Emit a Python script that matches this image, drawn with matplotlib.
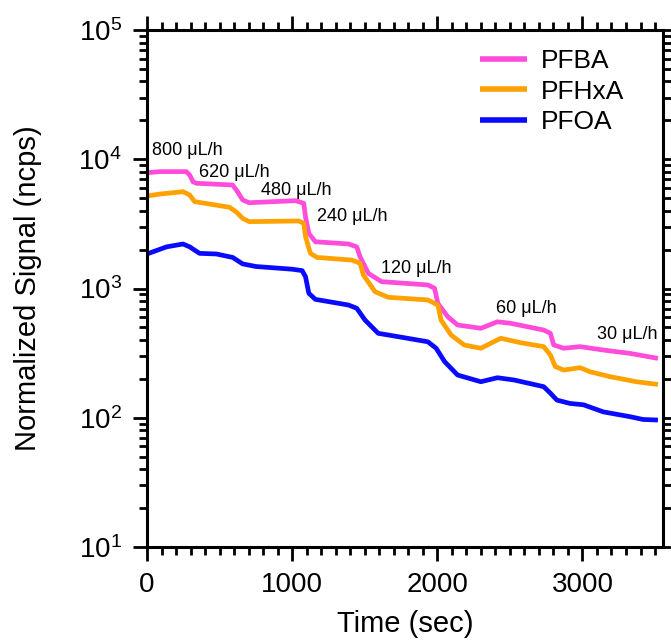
import matplotlib
matplotlib.use("Agg")
import matplotlib.pyplot as plt
from matplotlib.ticker import LogLocator, MultipleLocator

plt.rcParams['font.family'] = ['Liberation Sans', 'DejaVu Sans']
plt.rcParams['mathtext.fontset'] = 'custom'
plt.rcParams['mathtext.rm'] = 'Liberation Sans'
plt.rcParams['mathtext.it'] = 'Liberation Sans'

# ---- data ----
pfba_t = [0, 89, 271, 294, 317, 340, 590, 624, 659, 704, 1024, 1080, 1092, 1115, 1160,
          1388, 1445, 1468, 1525, 1616, 1935, 1981, 2004, 2072, 2140, 2300, 2414, 2505,
          2733, 2779, 2802, 2870, 2984, 3144, 3326, 3520]
pfba_v = [7870, 8020, 8020, 7550, 6700, 6520, 6320, 5610, 4840, 4610, 4780, 4560, 3590,
          2670, 2300, 2210, 2100, 1760, 1310, 1130, 1065, 1005, 767, 605, 522, 492, 553,
          538, 477, 450, 366, 345, 355, 334, 315, 288]

pfhxa_t = [0, 89, 248, 294, 328, 568, 613, 659, 704, 1046, 1080, 1092, 1126, 1171, 1411,
           1468, 1491, 1571, 1662, 1935, 2004, 2026, 2095, 2186, 2300, 2437, 2573, 2733,
           2779, 2813, 2870, 2984, 3052, 3189, 3371, 3520]
pfhxa_v = [5200, 5380, 5610, 5290, 4700, 4250, 3930, 3490, 3290, 3330, 3190, 2520, 1870,
           1740, 1660, 1570, 1270, 944, 855, 815, 745, 570, 437, 365, 345, 412, 381, 355,
           306, 249, 234, 244, 227, 208, 190, 181]

pfoa_t = [0, 135, 248, 294, 362, 477, 590, 659, 750, 1000, 1069, 1092, 1115, 1160, 1388,
          1445, 1502, 1593, 1730, 1935, 1992, 2050, 2140, 2300, 2414, 2528, 2733, 2779,
          2824, 2915, 3007, 3144, 3326, 3417, 3520]
pfoa_v = [1850, 2100, 2210, 2100, 1870, 1850, 1740, 1550, 1480, 1410, 1375, 1235, 918,
          824, 745, 703, 570, 450, 424, 387, 345, 272, 214, 190, 204, 196, 174, 155, 137,
          129, 126, 111, 102, 97, 96]

series_names = ["PFBA", "PFHxA", "PFOA"]
series_colors = ["#FF4CDB", "#FFA200", "#0A0AFF"]

flow_labels = ["800 μL/h", "620 μL/h", "480 μL/h", "240 μL/h", "120 μL/h", "60 μL/h", "30 μL/h"]
flow_t = [34, 356, 786, 1170, 1614, 2407, 3098]
flow_v = [11600, 7960, 5780, 3600, 1420, 706, 437]

# ---- figure ----
fig = plt.figure(figsize=(6.71, 6.44), dpi=100)
ax = fig.add_axes([147 / 671, 1 - 547 / 644, (663 - 147) / 671, (547 - 30) / 644])

for t, v, name, c in zip([pfba_t, pfhxa_t, pfoa_t], [pfba_v, pfhxa_v, pfoa_v],
                         series_names, series_colors):
    ax.plot(t, v, color=c, lw=3.4, label=name, solid_joinstyle='round', solid_capstyle='butt')

ax.set_yscale('log')
ax.set_xlim(0, 3555)
ax.set_ylim(10, 1e5)

ax.xaxis.set_major_locator(MultipleLocator(1000))
ax.xaxis.set_minor_locator(MultipleLocator(100))
ax.yaxis.set_major_locator(LogLocator(base=10, numticks=10))
ax.yaxis.set_minor_locator(LogLocator(base=10, subs=range(2, 10), numticks=20))

for s in ax.spines.values():
    s.set_linewidth(2.2)

ax.tick_params(which='both', direction='out', top=True, right=True, width=2.0,
               labelsize=20)
ax.tick_params(which='major', length=10, pad=8)
ax.tick_params(which='minor', length=6)

ax.set_xlabel("Time (sec)", fontsize=21, labelpad=9)
ax.set_ylabel("Normalized Signal (ncps)", fontsize=21, labelpad=26)

for lab, t, v in zip(flow_labels, flow_t, flow_v):
    ax.text(t, v, lab, fontsize=13, ha='left', va='center')

leg = ax.legend(loc='upper left', bbox_to_anchor=(0.645, 0.963), frameon=False,
                fontsize=19, handlelength=1.8, handletextpad=0.5, labelspacing=0.25,
                borderpad=0, borderaxespad=0)
for h in leg.get_lines():
    h.set_linewidth(4)

fig.savefig("out.png", dpi=100)
